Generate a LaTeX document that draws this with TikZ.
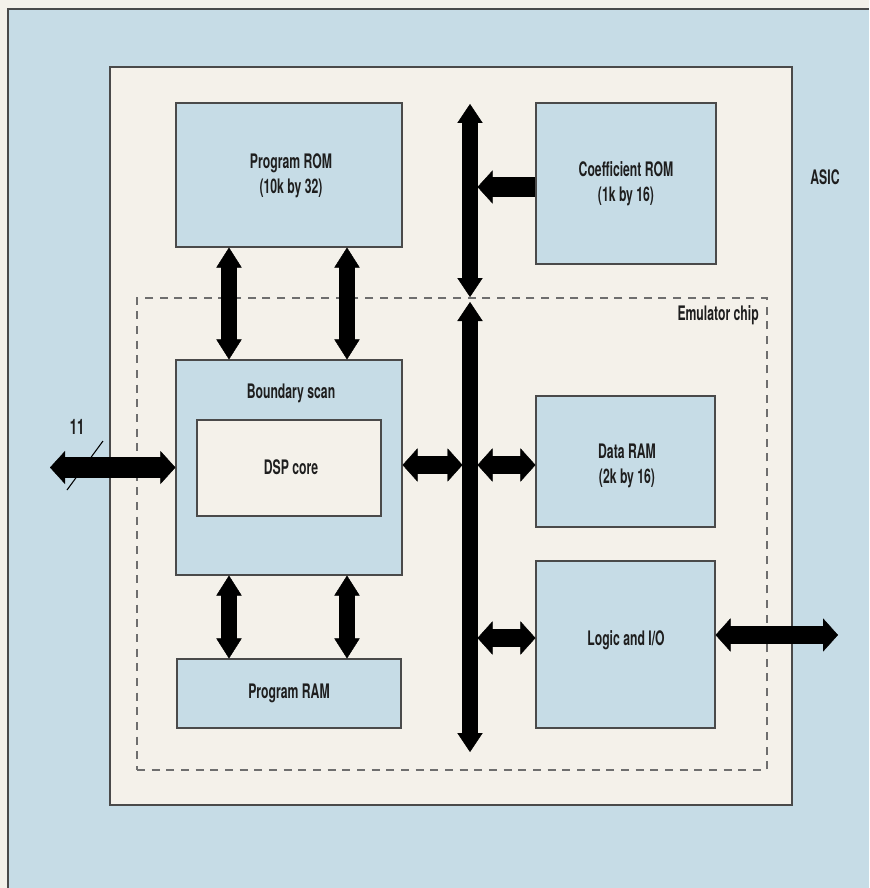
\documentclass[tikz,border=0pt]{standalone}
\usepackage{fontspec}
\setmainfont{TeX Gyre Heros}[FakeStretch=0.61]
\usetikzlibrary{arrows.meta}
\definecolor{cream}{HTML}{F4F1EA}
\definecolor{lblue}{HTML}{C6DCE6}
\definecolor{edge}{HTML}{4A4A4A}
\definecolor{dashc}{HTML}{6E6E6E}
\definecolor{ink}{HTML}{1E1E1E}
\tikzset{
  lbl/.style={font=\bfseries\fontsize{15}{19}\selectfont, text=ink, align=center, inner sep=0pt},
  box/.style={draw=edge, line width=0.8pt, fill=lblue, inner sep=0pt},
  varrow/.style={line width=12.5pt, >={Triangle[width=19pt,length=15pt,line width=0.3pt]}, <->},
  busarrow/.style={line width=11.5pt, >={Triangle[width=19pt,length=14.25pt,line width=0.3pt]}, <->},
  harrow/.style={line width=13.5pt, >={Triangle[width=25pt,length=11.25pt,line width=0.3pt]}, <->},
  bigarrow/.style={line width=15.5pt, >={Triangle[width=24.75pt,length=11.25pt,line width=0.3pt]}}
}
\begin{document}
\begin{tikzpicture}[x=0.75pt,y=-0.75pt]
\useasboundingbox (0,0) rectangle (869,888);
\fill[cream] (0,0) rectangle (869,888);
\fill[lblue] (8,9) rectangle (869,888);
\draw[edge, line width=0.9pt] (8,888) -- (8,9) -- (869,9);

% ASIC and emulator outlines
\node[draw=edge, line width=0.9pt, fill=cream, inner sep=0pt,
      minimum width=511.5pt, minimum height=553.5pt] (asic) at (451,436) {};
\node[draw=dashc, line width=0.8pt, dash pattern=on 6pt off 5pt, inner sep=0pt,
      minimum width=472.5pt, minimum height=354pt] (emu) at (452,534) {};

% blocks
\node[box, minimum width=169.5pt, minimum height=108pt] (prom) at (289,175) {};
\node[lbl] (promtext) at (291,176) {Program ROM\\(10k by 32)};
\node[box, minimum width=135pt, minimum height=120.75pt] (coef) at (626,183.5) {};
\node[lbl] (coeftext) at (coef.center) {Coefficient ROM\\(1k by 16)};
\node[box, minimum width=169.5pt, minimum height=161.25pt] (bs) at (289,467.5) {};
\node[lbl] (bstext) at (291,393) {Boundary scan};
\node[draw=edge, line width=0.8pt, fill=cream, inner sep=0pt,
      minimum width=138pt, minimum height=72pt] (dsp) at (289,468) {};
\node[lbl] (dsptext) at (291,467) {DSP core};
\node[box, minimum width=134.25pt, minimum height=98.25pt] (dram) at (625.5,461.5) {};
\node[lbl] (dramtext) at (627,466) {Data RAM\\(2k by 16)};
\node[box, minimum width=134.25pt, minimum height=125.25pt] (logic) at (625.5,644.5) {};
\node[lbl] (logictext) at (626,640) {Logic and I/O};
\node[box, minimum width=168pt, minimum height=51.75pt] (pram) at (289,693.5) {};
\node[lbl] (pramtext) at (pram.center) {Program RAM};

% labels
\node[lbl] (asiclabel) at (825,177) {ASIC};
\node[lbl, anchor=base east] (emulabel) at (759,320) {Emulator chip};
\node[lbl, font=\bfseries\fontsize{16}{19}\selectfont] (n11) at (77,427) {11};

% coordinates
\coordinate (xl) at (229,0);
\coordinate (xr) at (347,0);
\coordinate (bustop) at (470,104);
\coordinate (busgapA) at (470,297);
\coordinate (busgapB) at (470,302);
\coordinate (busbot) at (470,752);
\coordinate (bL) at (462.5,465);
\coordinate (bR) at (477.5,465);
\coordinate (cR) at (477.5,187);
\coordinate (lR) at (477.5,638);
\coordinate (ext2) at (838,635);
\coordinate (ext1) at (50,467.5);
\coordinate (s1) at (67,490);
\coordinate (s2) at (103,441);

% bus
\draw[busarrow] (bustop) -- (busgapA);
\draw[busarrow] (busgapB) -- (busbot);

% vertical links
\draw[varrow] (prom.south -| xl) -- (bs.north -| xl);
\draw[varrow] (prom.south -| xr) -- (bs.north -| xr);
\draw[varrow] (bs.south -| xl) -- (pram.north -| xl);
\draw[varrow] (bs.south -| xr) -- (pram.north -| xr);

% horizontal links
\draw[harrow] (bs.east |- bL) -- (bL);
\draw[harrow] (bR) -- (bR -| dram.west);
\draw[harrow] (lR) -- (lR -| logic.west);
\draw[harrow] (ext2 -| logic.east) -- (ext2);
\draw[bigarrow, ->] (cR -| coef.west) -- (cR);
\draw[bigarrow, <->] (ext1) -- (ext1 -| bs.west);
\draw[line width=0.8pt, black] (s1) -- (s2);
\end{tikzpicture}
\end{document}
